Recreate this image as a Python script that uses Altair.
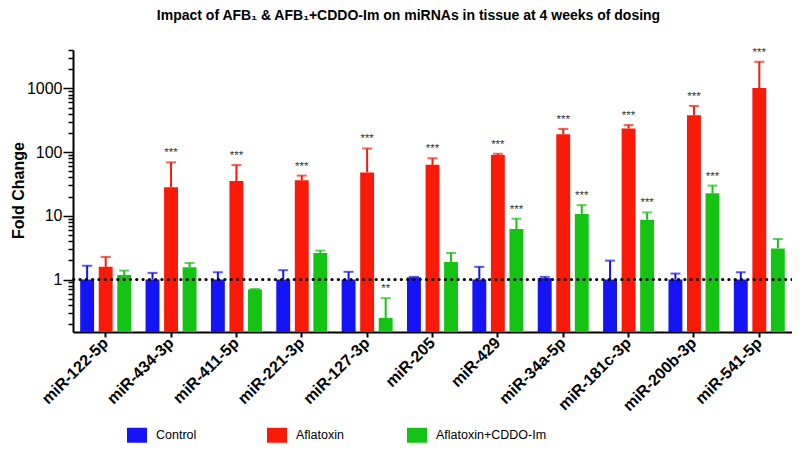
import altair as alt
import pandas as pd

categories = ["miR-122-5p", "miR-434-3p", "miR-411-5p", "miR-221-3p", "miR-127-3p",
              "miR-205", "miR-429", "miR-34a-5p", "miR-181c-3p", "miR-200b-3p", "miR-541-5p"]
series = ["Control", "Aflatoxin", "Aflatoxin+CDDO-Im"]
colors = ["#1414f5", "#fa1a0a", "#14c314"]

control = [1.0, 1.0, 1.0, 1.0, 1.0, 1.08, 1.0, 1.05, 1.0, 1.0, 1.0]
control_err = [1.65, 1.27, 1.30, 1.40, 1.32, 1.10, 1.58, 1.10, 1.98, 1.24, 1.30]
aflatoxin = [1.58, 28.1, 35.2, 36.0, 48.0, 63.0, 90.0, 191.0, 234.0, 379.0, 1011.0]
aflatoxin_err = [2.26, 69.0, 62.6, 42.7, 114.0, 80.0, 94.0, 231.0, 265.0, 530.0, 2613.0]
cddo = [1.18, 1.56, 0.70, 2.61, 0.25, 1.89, 6.2, 10.7, 8.66, 22.6, 3.08]
cddo_err = [1.38, 1.82, 0.71, 2.84, 0.51, 2.61, 9.0, 14.7, 11.3, 29.8, 4.32]
aflatoxin_sig = ["", "***", "***", "***", "***", "***", "***", "***", "***", "***", "***"]
cddo_sig = ["", "", "", "", "**", "", "***", "***", "***", "***", ""]

rows = []
for i, c in enumerate(categories):
    rows.append(dict(cat=c, grp=series[0], val=control[i], err=control_err[i], sig=""))
    rows.append(dict(cat=c, grp=series[1], val=aflatoxin[i], err=aflatoxin_err[i], sig=aflatoxin_sig[i]))
    rows.append(dict(cat=c, grp=series[2], val=cddo[i], err=cddo_err[i], sig=cddo_sig[i]))
df = pd.DataFrame(rows)

minor = ([round(0.1 * k, 1) for k in range(2, 10)] + list(range(1, 10))
         + list(range(10, 100, 10)) + list(range(100, 1000, 100)) + [1000, 2000, 3000, 4000])
major_test = "datum.value == 1 || datum.value == 10 || datum.value == 100 || datum.value == 1000"

FONT = "Liberation Sans, Arial, Helvetica, sans-serif"

x_enc = alt.X("cat:N", sort=categories,
              scale=alt.Scale(paddingInner=0.22, paddingOuter=0.11),
              axis=alt.Axis(title=None, labelAngle=-45, labelAlign="right", labelBaseline="middle",
                            labelFont=FONT, labelFontSize=16, labelFontWeight="bold", labelColor="black",
                            labelPadding=3, tickSize=5, tickWidth=2, tickColor="black",
                            domainColor="black", domainWidth=2))
xo_enc = alt.XOffset("grp:N", sort=series, scale=alt.Scale(paddingInner=0.25, paddingOuter=0))
yscale = alt.Scale(type="log", domain=[0.15, 4000], nice=False)
color_enc = alt.Color("grp:N", sort=series, scale=alt.Scale(domain=series, range=colors),
                      legend=alt.Legend(title=None, orient="none", direction="horizontal",
                                        legendX=54, legendY=375,
                                        symbolType="M-1,-0.75H1V0.75H-1Z", symbolSize=400,
                                        symbolStrokeWidth=0, labelFont=FONT, labelFontSize=12.5,
                                        labelColor="black", labelOffset=9, columnPadding=0,
                                        gridAlign="all", labelLimit=300))

base = alt.Chart(df)

bars = base.mark_bar(opacity=1).encode(
    x=x_enc,
    xOffset=xo_enc,
    y=alt.Y("val:Q", scale=yscale,
            axis=alt.Axis(title="Fold Change", values=minor,
                          labelExpr=f"({major_test}) ? format(datum.value, 'd') : ''",
                          tickSize={"condition": {"test": major_test, "value": 10}, "value": 5},
                          tickWidth=1.5, tickColor="black", domainColor="black", domainWidth=2,
                          labelFont=FONT, labelFontSize=16, labelColor="black", labelPadding=1,
                          grid=False, titleFont=FONT, titleFontSize=16, titleFontWeight="bold",
                          titleColor="black", titleAngle=-90, titleX=-50, titleY=140,
                          titleAlign="center", titleBaseline="alphabetic")),
    y2=alt.Y2(datum=0.15),
    color=color_enc,
)

whisker = base.mark_rule(strokeWidth=2).encode(
    x=alt.X("cat:N", sort=categories), xOffset=xo_enc,
    y=alt.Y("val:Q", scale=yscale), y2="err:Q",
    color=alt.Color("grp:N", sort=series, legend=None),
)
caps = base.mark_tick(thickness=2, size=10, orient="horizontal").encode(
    x=alt.X("cat:N", sort=categories), xOffset=xo_enc,
    y=alt.Y("err:Q", scale=yscale),
    color=alt.Color("grp:N", sort=series, legend=None),
)
stars = base.mark_text(fontSize=11.5, color="#333333", dy=-4, baseline="bottom", font=FONT).encode(
    x=alt.X("cat:N", sort=categories), xOffset=xo_enc,
    y=alt.Y("err:Q", scale=yscale),
    text="sig:N",
)
ref = alt.Chart(pd.DataFrame({"y": [1.0]})).mark_rule(
    strokeWidth=3.2, strokeDash=[0.1, 6.2], strokeCap="round", color="black"
).encode(y=alt.Y("y:Q", scale=yscale))

chart = alt.layer(bars, whisker, caps, stars, ref).properties(
    width=719, height=282,
    autosize=alt.AutoSizeParams(type="none"),
    padding={"left": 65, "top": 42, "right": 0, "bottom": 113},
    title=alt.TitleParams("Impact of AFB\u2081 & AFB\u2081+CDDO-Im on miRNAs in tissue at 4 weeks of dosing",
                          font=FONT, fontSize=14, fontWeight="bold", color="black",
                          anchor="middle", dx=-24, offset=24),
).configure_view(stroke=None)

chart.save("out.html", embed_options={"renderer": "svg", "actions": False})
